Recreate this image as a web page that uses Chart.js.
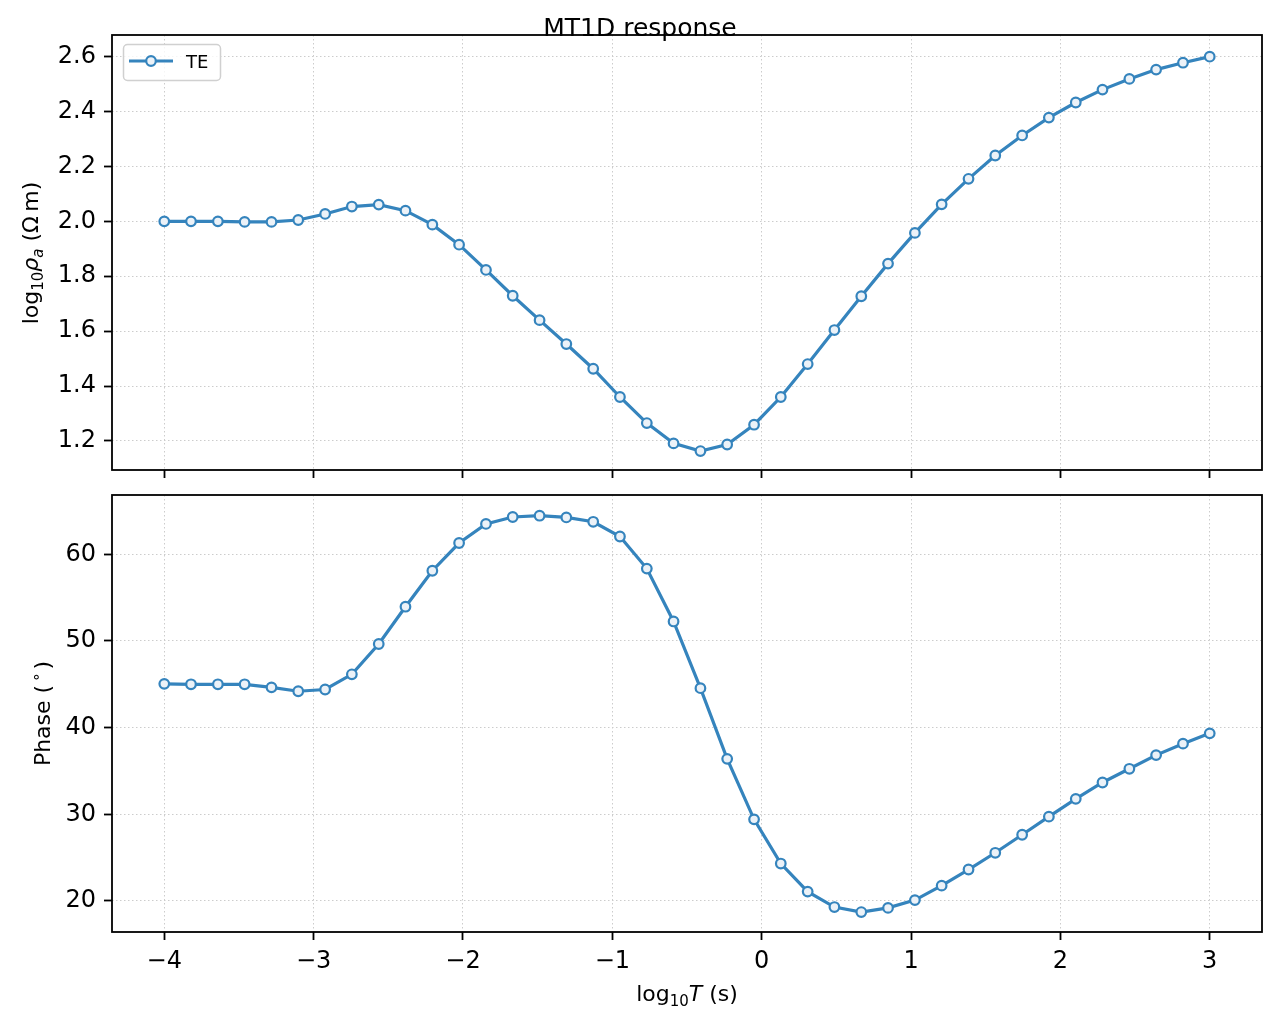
<!DOCTYPE html>
<html>
<head>
<meta charset="utf-8">
<script src="https://cdn.jsdelivr.net/npm/chart.js@4.4.1/dist/chart.umd.min.js"></script>
<style>
html,body{margin:0;padding:0;background:#fff;}
#wrap{position:relative;width:1280px;height:1028px;overflow:hidden;background:#fff;}
canvas{position:absolute;left:0;}
#c1{top:0;}
#c2{top:480px;}
</style>
</head>
<body>
<div id="wrap">
<canvas id="c1" width="1280" height="480"></canvas>
<canvas id="c2" width="1280" height="548"></canvas>
</div>
<script>
// ---- data ----
const titleText = 'MT1D response';
const seriesLabel = 'TE';
const periods = [-4.000,-3.821,-3.641,-3.462,-3.282,-3.103,-2.923,-2.744,-2.564,-2.385,
  -2.205,-2.026,-1.846,-1.667,-1.487,-1.308,-1.128,-0.949,-0.769,-0.590,
  -0.410,-0.231,-0.051,0.128,0.308,0.487,0.667,0.846,1.026,1.205,
  1.385,1.564,1.744,1.923,2.103,2.282,2.462,2.641,2.821,3.000];
const rhoTE = [2.000,2.000,2.000,1.998,1.998,2.005,2.027,2.054,2.061,2.039,
  1.988,1.915,1.823,1.729,1.640,1.553,1.463,1.360,1.265,1.191,
  1.163,1.187,1.259,1.360,1.480,1.604,1.727,1.846,1.958,2.062,
  2.155,2.240,2.313,2.378,2.433,2.480,2.519,2.553,2.578,2.600];
const phaseTE = [45.05,45.0,45.0,45.0,44.65,44.2,44.4,46.15,49.65,53.95,
  58.1,61.3,63.5,64.3,64.45,64.25,63.75,62.05,58.35,52.25,
  44.55,36.4,29.42,24.32,21.08,19.3,18.72,19.2,20.1,21.77,
  23.63,25.56,27.64,29.73,31.78,33.67,35.25,36.83,38.15,39.34];
const xTicks = [-4,-3,-2,-1,0,1,2,3];
const rhoTicks = [1.2,1.4,1.6,1.8,2.0,2.2,2.4,2.6];
const phaseTicks = [20,30,40,50,60];

// ---- style ----
const FONT = 'DejaVu Sans';
const LINE = '#3584bd';
const FACE = '#ecf2f8';
const GRID = '#cccccc';

function fmtMinus(v){ return String(v).replace('-', '\u2212'); }

function drawRich(ctx, parts, x, y, rot){
  ctx.save();
  ctx.translate(x, y);
  ctx.rotate(rot || 0);
  let w = 0;
  parts.forEach(p => { ctx.font = p.f; p.w = ctx.measureText(p.t).width; w += p.w; });
  let cx = -w / 2;
  ctx.fillStyle = '#000';
  ctx.textBaseline = 'alphabetic';
  ctx.textAlign = 'left';
  parts.forEach(p => { ctx.font = p.f; ctx.fillText(p.t, cx, p.dy || 0); cx += p.w; });
  ctx.restore();
}

function roundRectPath(ctx, x, y, w, h, r){
  ctx.beginPath();
  ctx.moveTo(x + r, y);
  ctx.arcTo(x + w, y, x + w, y + h, r);
  ctx.arcTo(x + w, y + h, x, y + h, r);
  ctx.arcTo(x, y + h, x, y, r);
  ctx.arcTo(x, y, x + w, y, r);
  ctx.closePath();
}

const spinePlugin = {
  id: 'spines',
  afterDraw(chart, args, opts){
    const ctx = chart.ctx, a = chart.chartArea;
    ctx.save();
    ctx.strokeStyle = '#000';
    ctx.lineWidth = 1.8;
    ctx.strokeRect(a.left, a.top, a.right - a.left, a.bottom - a.top);
    ctx.restore();
    if (opts.extra) opts.extra(ctx, chart);
  }
};

function makeDataset(values){
  return {
    label: seriesLabel,
    data: periods.map((x, i) => ({x: x, y: values[i]})),
    borderColor: LINE,
    borderWidth: 3.2,
    pointRadius: 4.8,
    pointBorderWidth: 2.2,
    pointBackgroundColor: FACE,
    pointBorderColor: LINE,
    tension: 0,
    fill: false
  };
}

function zeroPad(s){ s.paddingTop = 0; s.paddingBottom = 0; s.paddingLeft = 0; s.paddingRight = 0; }

function makeOptions(cfg){
  return {
    responsive: false,
    animation: false,
    devicePixelRatio: 1,
    layout: {padding: {top: cfg.padTop, right: 18, left: 0, bottom: 0}},
    plugins: {
      legend: {display: false},
      tooltip: {enabled: false},
      spines: {extra: cfg.extra}
    },
    scales: {
      x: {
        type: 'linear', min: -4.35, max: 3.35,
        afterBuildTicks: s => { s.ticks = xTicks.map(v => ({value: v})); },
        afterFit: s => { s.height = cfg.xHeight; zeroPad(s); },
        ticks: {display: cfg.showX, autoSkip: false, maxRotation: 0, padding: 7,
          color: '#000', font: {family: FONT, size: 24}, callback: v => fmtMinus(v)},
        grid: {color: GRID, lineWidth: 1, drawTicks: true, tickLength: 8,
          tickColor: '#000', tickWidth: 1.8, tickBorderDash: []},
        border: {display: false, dash: [1.5, 2.5]}
      },
      y: {
        type: 'linear', min: cfg.yMin, max: cfg.yMax,
        afterBuildTicks: s => { s.ticks = cfg.yTicks.map(v => ({value: v})); },
        afterFit: s => { s.width = 112; zeroPad(s); },
        ticks: {autoSkip: false, padding: 8, color: '#000',
          font: {family: FONT, size: 24}, callback: cfg.yFmt},
        grid: {color: GRID, lineWidth: 1, drawTicks: true, tickLength: 8,
          tickColor: '#000', tickWidth: 1.8, tickBorderDash: []},
        border: {display: false, dash: [1.5, 2.5]}
      }
    }
  };
}

const F22 = '22px "DejaVu Sans"';
const F15 = '15px "DejaVu Sans"';
const I22 = 'italic 22px "DejaVu Sans"';
const I15 = 'italic 15px "DejaVu Sans"';

new Chart(document.getElementById('c1'), {
  type: 'line',
  data: {datasets: [makeDataset(rhoTE)]},
  plugins: [spinePlugin],
  options: makeOptions({
    padTop: 35, xHeight: 10, showX: false,
    yMin: 1.094, yMax: 2.679, yTicks: rhoTicks, yFmt: v => Number(v).toFixed(1),
    extra: (ctx) => {
      // y label
      drawRich(ctx, [
        {t: 'log', f: F22}, {t: '10', f: F15, dy: 5},
        {t: '\u03c1', f: I22}, {t: 'a', f: I15, dy: 5},
        {t: ' (\u03a9\u2009m)', f: F22}
      ], 37.5, 253, -Math.PI / 2);
      // legend
      ctx.save();
      roundRectPath(ctx, 123.5, 44.5, 97, 36, 4);
      ctx.fillStyle = 'rgba(255,255,255,0.8)';
      ctx.fill();
      ctx.strokeStyle = '#d0d0d0';
      ctx.lineWidth = 1.5;
      ctx.stroke();
      ctx.beginPath();
      ctx.moveTo(129, 61); ctx.lineTo(173, 61);
      ctx.strokeStyle = LINE; ctx.lineWidth = 3.2; ctx.stroke();
      ctx.beginPath();
      ctx.arc(151, 61, 4.8, 0, Math.PI * 2);
      ctx.fillStyle = FACE; ctx.fill();
      ctx.lineWidth = 2.2; ctx.strokeStyle = LINE; ctx.stroke();
      ctx.fillStyle = '#000';
      ctx.font = '18px "DejaVu Sans"';
      ctx.textBaseline = 'alphabetic';
      ctx.textAlign = 'left';
      ctx.fillText(seriesLabel, 186, 68);
      // suptitle
      ctx.font = '25px "DejaVu Sans"';
      ctx.textAlign = 'center';
      ctx.fillText(titleText, 640, 36);
      ctx.restore();
    }
  })
});

new Chart(document.getElementById('c2'), {
  type: 'line',
  data: {datasets: [makeDataset(phaseTE)]},
  plugins: [spinePlugin],
  options: makeOptions({
    padTop: 15, xHeight: 96, showX: true,
    yMin: 16.42, yMax: 66.84, yTicks: phaseTicks, yFmt: v => String(v),
    extra: (ctx) => {
      drawRich(ctx, [
        {t: 'Phase (', f: F22}, {t: '\u2009\u2218\u2009', f: F15, dy: -9}, {t: ')', f: F22}
      ], 49.5, 233.5, -Math.PI / 2);
      drawRich(ctx, [
        {t: 'log', f: F22}, {t: '10', f: F15, dy: 5},
        {t: 'T', f: I22}, {t: ' (s)', f: F22}
      ], 687, 521, 0);
    }
  })
});
</script>
</body>
</html>
